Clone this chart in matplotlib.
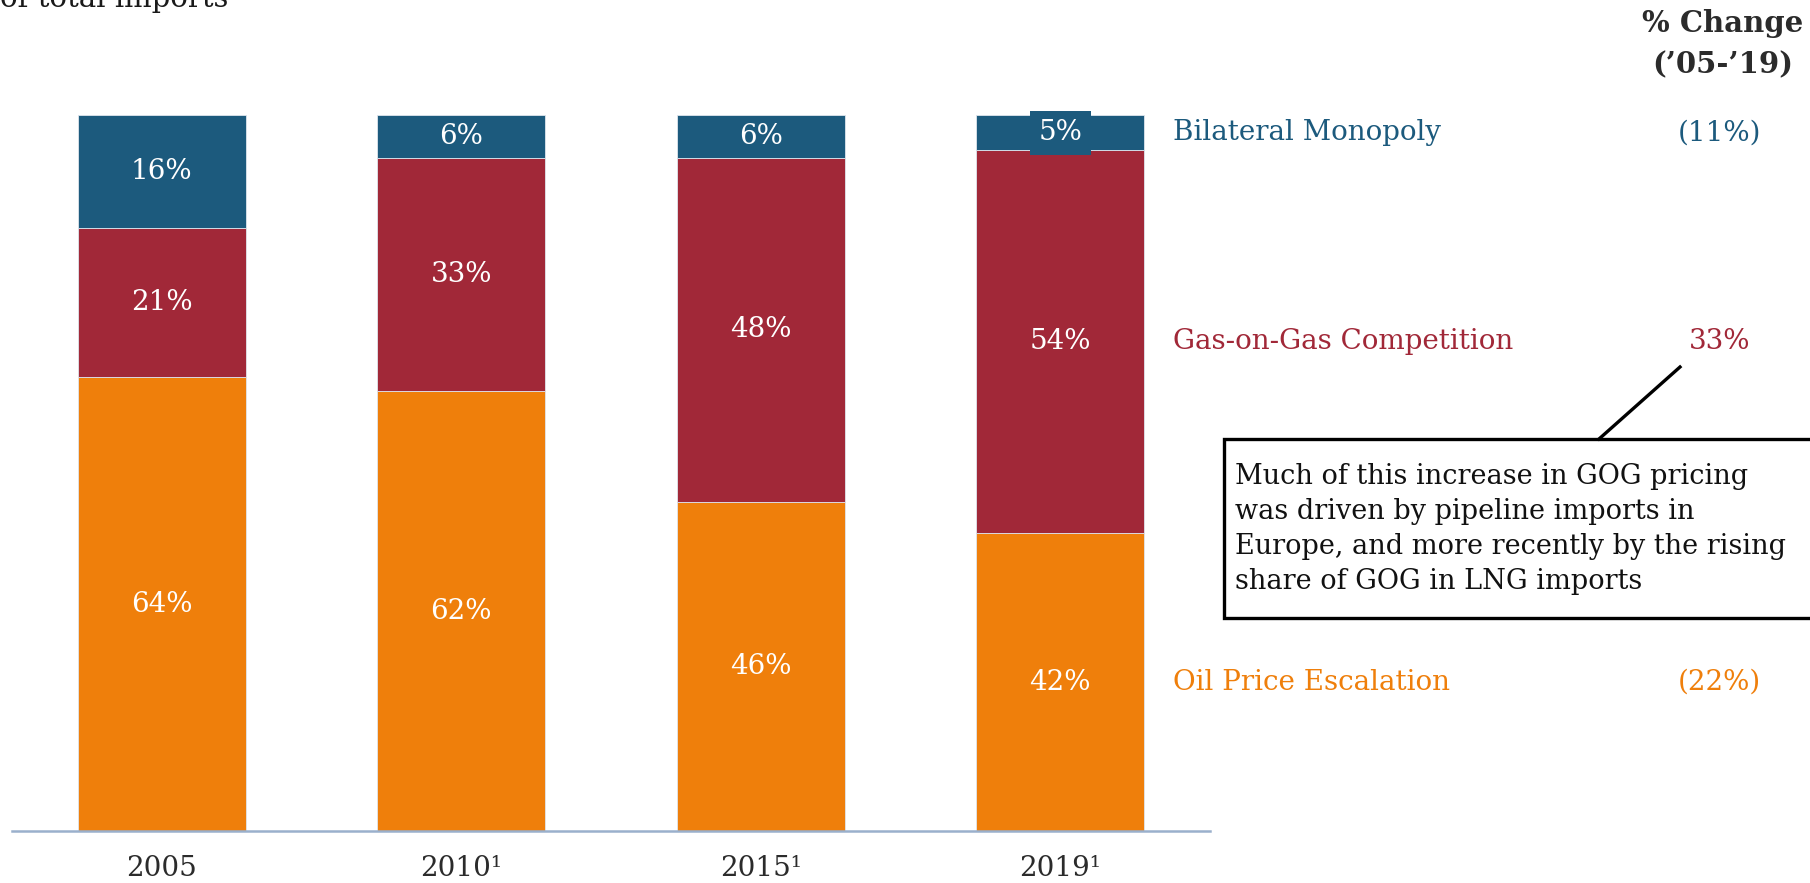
import matplotlib
matplotlib.use('Agg')
import matplotlib.pyplot as plt
from matplotlib.patches import Rectangle
from matplotlib.lines import Line2D
import numpy as np

# Data (share of total imports, %)
years = ['2005', '2010¹', '2015¹', '2019¹']
oil = [64, 62, 46, 42]
gog = [21, 33, 48, 54]
bilateral = [16, 6, 6, 5]

series_names = ['Oil Price Escalation', 'Gas-on-Gas Competition', 'Bilateral Monopoly']
colors = ['#EF7F0B', '#A12838', '#1C5A7D']
note = ('Much of this increase in GOG pricing\n'
        'was driven by pipeline imports in\n'
        'Europe, and more recently by the rising\n'
        'share of GOG in LNG imports')

plt.rcParams['font.family'] = ['DejaVu Serif']
W, H = 1810, 883
fig = plt.figure(figsize=(W / 100, H / 100), dpi=100)
ax = fig.add_axes([12 / W, 52 / H, (1210 - 12) / W, 716 / H])

data = np.array([oil, gog, bilateral], dtype=float)
totals = data.sum(axis=0)
shares = data / totals
x = np.arange(len(years))
bottom = np.zeros(len(years))
FS = 20

for i, (row, pct) in enumerate(zip(shares, data)):
    ax.bar(x, row, 0.56, bottom=bottom, color=colors[i], edgecolor='#dfe6ee', linewidth=0.6)
    for j in range(len(years)):
        yc = bottom[j] + row[j] / 2
        bbox = None
        if row[j] < 0.055:
            bbox = dict(boxstyle='square,pad=0.3', fc=colors[i], ec='none')
        ax.text(x[j], yc, f'{int(pct[j])}%', ha='center', va='center',
                color='white', fontsize=FS, bbox=bbox)
    bottom += row

# right-hand legend labels and % change, aligned to 2019 bar segments
last = len(years) - 1
cum = 0
for i in range(3):
    yc = cum + shares[i][last] / 2
    cum += shares[i][last]
    ax.text(3.377, yc, series_names[i], ha='left', va='center',
            color=colors[i], fontsize=FS, clip_on=False)
    chg = int(data[i][last] - data[i][0])
    lbl = f'{chg}%' if chg >= 0 else f'({-chg}%)'
    ax.text(5.2, yc, lbl, ha='center', va='center', color=colors[i],
            fontsize=FS, clip_on=False)

fig.text(1723 / W, 1 - 23 / H, '% Change', ha='center', va='center',
         fontsize=FS + 1, fontweight='bold', color='#2b2b2b')
fig.text(1723 / W, 1 - 65 / H, '(’05-’19)', ha='center', va='center',
         fontsize=FS + 1, fontweight='bold', color='#2b2b2b')
fig.text(0, 1 - 7 / H, 'of total imports', ha='left', va='baseline',
         fontsize=FS + 1, color='#1a1a1a')

ax.set_xlim(-0.5, 3.5)
ax.set_ylim(0, 1)
ax.set_xticks(x)
ax.set_xticklabels(years, fontsize=FS, color='#2b2b2b')
ax.tick_params(axis='x', length=0, pad=17)
ax.set_yticks([])
for s in ['top', 'right', 'left']:
    ax.spines[s].set_visible(False)
ax.spines['bottom'].set_color('#9AB0CC')
ax.spines['bottom'].set_linewidth(1.8)

# callout box
fig.patches.append(Rectangle((1224 / W, 1 - 618 / H), 700 / W, 179 / H,
                             transform=fig.transFigure, fc='white', ec='black',
                             lw=2.4, clip_on=False))
fig.lines.append(Line2D([1599 / W, 1680 / W], [1 - 439 / H, 1 - 367 / H],
                        transform=fig.transFigure, color='black', lw=2.4))
fig.text(1235 / W, 1 - 529 / H, note, ha='left', va='center', fontsize=FS - 0.5,
         color='#111111', linespacing=1.38)

fig.savefig('out.png', dpi=100)
